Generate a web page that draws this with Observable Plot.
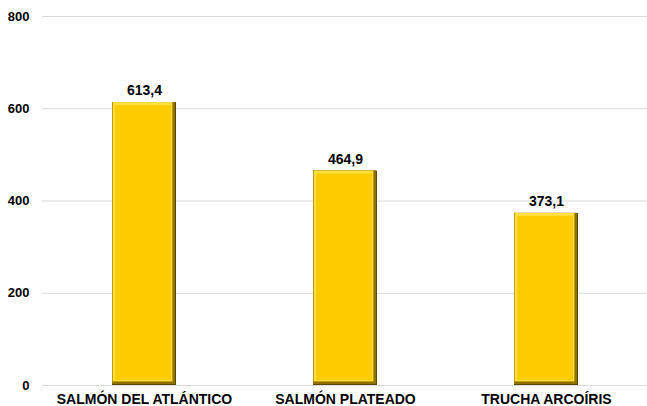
<!DOCTYPE html>
<html>
<head>
<meta charset="utf-8">
<script src="https://cdn.jsdelivr.net/npm/d3@7"></script>
<script src="https://cdn.jsdelivr.net/npm/@observablehq/plot@0.6"></script>
<style>
  html, body { margin: 0; padding: 0; background: #fff; }
  #chart { width: 647px; height: 406px; }
</style>
</head>
<body>
<div id="chart"></div>
<script>
const categories = ["SALMÓN DEL ATLÁNTICO", "SALMÓN PLATEADO", "TRUCHA ARCOÍRIS"];
const values = [613.4, 464.9, 373.1];
const yTicks = [0, 200, 400, 600, 800];

const data = categories.map((c, i) => ({ cat: c, v: values[i] }));
const fmt = v => v.toFixed(1).replace(".", ",");

const chart = Plot.plot({
  width: 647,
  height: 406,
  marginLeft: 42,
  marginRight: 0,
  marginTop: 16,
  marginBottom: 21,
  style: { fontFamily: "Liberation Sans, Arial, sans-serif", fontWeight: "bold", fontSize: "13px", color: "#000", background: "#fff" },
  x: { domain: categories, paddingInner: 0.684, paddingOuter: 0.342, label: null },
  y: { domain: [0, 800], ticks: yTicks, label: null },
  marks: [
    Plot.gridY(yTicks, { stroke: "#d9d9d9", strokeOpacity: 1, strokeWidth: 1 }),
    Plot.barY(data, { x: "cat", y: "v", fill: "#5c4800" }),
    Plot.barY(data, { x: "cat", y: "v", fill: "#8f7000", insetRight: 1, insetBottom: 1 }),
    Plot.barY(data, { x: "cat", y: "v", fill: "#c49a00", insetRight: 3, insetBottom: 3 }),
    Plot.barY(data, { x: "cat", y: "v", fill: "#ffe040", insetLeft: 1, insetRight: 4, insetBottom: 4 }),
    Plot.barY(data, { x: "cat", y: "v", fill: "#ffcc00", insetLeft: 3, insetTop: 3, insetRight: 5, insetBottom: 5 }),
    Plot.text(data, { x: "cat", y: "v", text: d => fmt(d.v), dy: -12, fontSize: 14, fontWeight: "bold", fill: "#000" }),
    Plot.axisY({ ticks: yTicks, tickSize: 0, tickPadding: 13, fontSize: 13, fontWeight: "bold", label: null }),
    Plot.axisX({ tickSize: 0, tickPadding: 9, fontSize: 14, fontWeight: "bold", label: null })
  ]
});
document.getElementById("chart").appendChild(chart);
</script>
</body>
</html>
